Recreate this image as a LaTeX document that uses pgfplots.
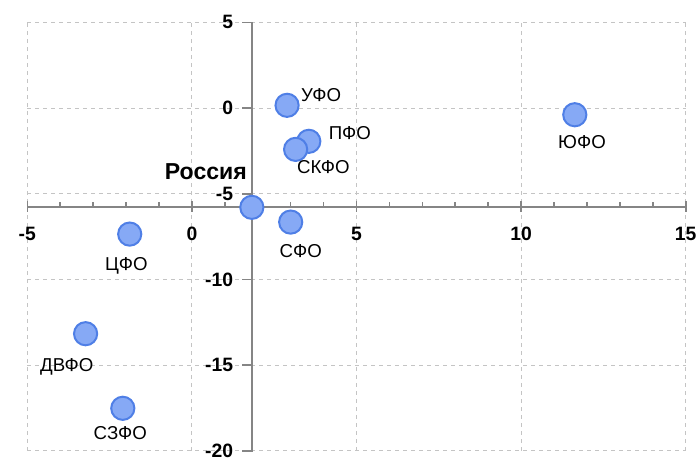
\documentclass[border=0pt]{standalone}
\usepackage{pgfplots}
\pgfplotsset{compat=1.18}
\usepackage{fontspec}
\setmainfont{Liberation Sans}

\definecolor{ptfill}{HTML}{86A9F5}
\definecolor{ptedge}{HTML}{4F7FE6}
\definecolor{gridc}{HTML}{C4C4C4}
\definecolor{axc}{HTML}{858585}

\begin{document}
\begin{tikzpicture}
    \begin{axis}[
        scale only axis,
        width=493.8pt, height=321.5pt,
        xmin=-5, xmax=15, ymin=-20, ymax=5,
        axis lines=middle,
        axis line style={-, axc, line width=1.5pt},
        axis x line shift=74.5pt,
        axis y line shift=-44.9pt,
        hide obscured x ticks=false,
        hide obscured y ticks=false,
        xtick={-5,0,5,10,15},
        ytick={-20,-15,-10,-5,0,5},
        minor x tick num=4,
        grid=major,
        major grid style={gridc, dashed, line width=0.75pt},
        tick style={axc, line width=1.2pt},
        major tick length=8pt,
        minor tick length=4pt,
        major x tick style={yshift=0.8pt},
        minor x tick style={yshift=2pt},
        major y tick style={xshift=-3pt},
        tick label style={font=\fontsize{14.5}{14.5}\selectfont\bfseries},
        xticklabel style={yshift=-7pt},
        yticklabel style={xshift=-6.5pt},
        /pgf/number format/assume math mode=true,
        clip=false,
        nodes near coords,
        point meta=explicit symbolic,
        visualization depends on={\thisrow{dx}\as\dx},
        visualization depends on={\thisrow{dy}\as\dy},
        every node near coord/.append style={anchor=center, xshift=\dx pt, yshift=\dy pt,
            font=\fontsize{14}{14}\selectfont, text=black},
    ]
        \addplot[only marks, mark=*, mark size=8.7pt,
            mark options={fill=ptfill, draw=ptedge, line width=1.5pt}]
            table[meta=label] {
                x      y       dx     dy     label
                2.89   0.16    25.6   7.7    УФО
                3.55   -1.94   30.8   6.0    ПФО
                3.15   -2.41   20.8   -13.0  СКФО
                11.63  -0.39   5.4    -20.3  ЮФО
                3.00   -6.65   7.6    -21.9  СФО
                -1.89  -7.35   -2.5   -23.8  ЦФО
                -3.23  -13.16  -14.1  -24.8  ДВФО
                -2.10  -17.51  -1.9   -18.8  СЗФО
            };
        \addplot[only marks, mark=*, mark size=8.7pt,
            mark options={fill=ptfill, draw=ptedge, line width=1.5pt},
            every node near coord/.append style={font=\fontsize{17.3}{17.3}\selectfont\bfseries}]
            table[meta=label] {
                x      y       dx     dy     label
                1.82   -5.79   -34.5  26.7   Россия
            };
    \end{axis}
    \pgfresetboundingbox
    \useasboundingbox (-20.5pt,-6pt) rectangle (502.25pt,338.25pt);
\end{tikzpicture}
\end{document}
